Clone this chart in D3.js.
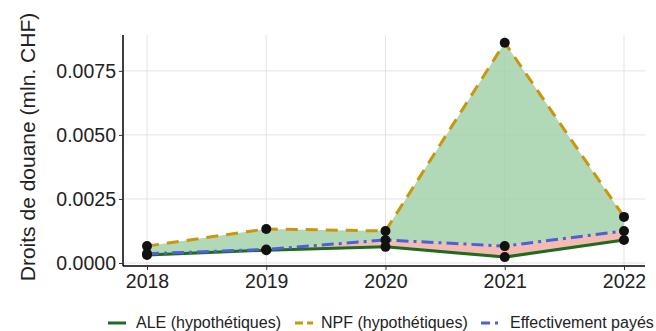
<!DOCTYPE html>
<html><head><meta charset="utf-8">
<script src="https://cdn.jsdelivr.net/npm/d3@7"></script>
<style>body{margin:0;background:#fff}svg{display:block}</style>
</head><body>
<script>
const years = [2018, 2019, 2020, 2021, 2022];
const ale = [0.00031, 0.00050, 0.00063, 0.00023, 0.00090];
const npf = [0.00066, 0.00133, 0.00125, 0.00860, 0.00180];
const eff = [0.00036, 0.00053, 0.00090, 0.00066, 0.00125];
const yTicks = [0, 0.0025, 0.005, 0.0075];
const legendLabels = ["ALE (hypothétiques)", "NPF (hypothétiques)", "Effectivement payés"];

const W = 656, H = 331;
const FONT = "Liberation Sans, Arial, sans-serif";
const svg = d3.select("body").append("svg").attr("width", W).attr("height", H);
const x = d3.scalePoint().domain(years).range([147, 624]);
const y = d3.scaleLinear().domain([0, 0.0089]).range([263, 35]);

// grid
const g = svg.append("g");
g.selectAll(".vg").data(years).enter().append("line")
  .attr("x1", d => x(d)).attr("x2", d => x(d)).attr("y1", 35).attr("y2", 266)
  .attr("stroke", "#e3e3e3").attr("stroke-width", 1);
g.selectAll(".hg").data(yTicks).enter().append("line")
  .attr("x1", 123).attr("x2", 645).attr("y1", d => y(d)).attr("y2", d => y(d))
  .attr("stroke", "#e3e3e3").attr("stroke-width", 1);

const data = years.map((yr, i) => ({yr, ale: ale[i], npf: npf[i], eff: eff[i]}));

// areas
svg.append("path").datum(data)
  .attr("d", d3.area().x(d => x(d.yr)).y0(d => y(d.eff)).y1(d => y(d.npf)))
  .attr("fill", "#9fcfa5").attr("fill-opacity", 0.8);
svg.append("path").datum(data)
  .attr("d", d3.area().x(d => x(d.yr)).y0(d => y(d.ale)).y1(d => y(d.eff)))
  .attr("fill", "#f2aaa0").attr("fill-opacity", 0.8);

const line = key => d3.line().x(d => x(d.yr)).y(d => y(d[key]));
svg.append("path").datum(data).attr("d", line("ale")).attr("fill", "none")
  .attr("stroke", "#1f6b1f").attr("stroke-width", 3);
svg.append("path").datum(data).attr("d", line("eff")).attr("fill", "none")
  .attr("stroke", "#4f5fd6").attr("stroke-width", 3).attr("stroke-dasharray", "12,5,3,5");
svg.append("path").datum(data).attr("d", line("npf")).attr("fill", "none")
  .attr("stroke", "#c9970c").attr("stroke-width", 3).attr("stroke-dasharray", "12,8");

// points
["ale", "npf", "eff"].forEach(k => {
  svg.selectAll(".p" + k).data(data).enter().append("circle")
    .attr("cx", d => x(d.yr)).attr("cy", d => y(d[k])).attr("r", 5).attr("fill", "#111");
});

// axes
const yAxis = svg.append("g").attr("transform", "translate(123,0)")
  .call(d3.axisLeft(y).tickValues(yTicks).tickFormat(d3.format(".4f")).tickSize(4).tickPadding(3));
yAxis.select(".domain").attr("d", "M0,35V266").attr("stroke", "#000").attr("stroke-width", 1.5);
const xAxis = svg.append("g").attr("transform", "translate(0,266)")
  .call(d3.axisBottom(x).tickSize(4).tickPadding(4));
xAxis.select(".domain").attr("d", "M123,0H645").attr("stroke", "#000").attr("stroke-width", 1.5);
[yAxis, xAxis].forEach(a => {
  a.selectAll("text").attr("font-family", FONT).attr("font-size", 19.5).attr("fill", "#222");
  a.selectAll(".tick line").attr("stroke", "#333");
});

svg.append("text").attr("transform", "translate(35,147) rotate(-90)")
  .attr("text-anchor", "middle").attr("font-family", FONT)
  .attr("font-size", 21).attr("fill", "#222").text("Droits de douane (mln. CHF)");

// legend
const lg = svg.append("g");
const keyX = [108, 295, 481], keyW = [18, 18, 20], txtX = [136, 321, 510];
const styles = [
  {c: "#1f6b1f", d: null},
  {c: "#c9970c", d: "8,4"},
  {c: "#4f5fd6", d: "9,5,3,10"}
];
legendLabels.forEach((t, i) => {
  lg.append("line").attr("x1", keyX[i]).attr("x2", keyX[i] + keyW[i]).attr("y1", 323).attr("y2", 323)
    .attr("stroke", styles[i].c).attr("stroke-width", 3).attr("stroke-dasharray", styles[i].d);
  lg.append("text").attr("x", txtX[i]).attr("y", 328)
    .attr("font-family", FONT).attr("font-size", 16).attr("fill", "#222").text(t);
});
</script>
</body></html>
